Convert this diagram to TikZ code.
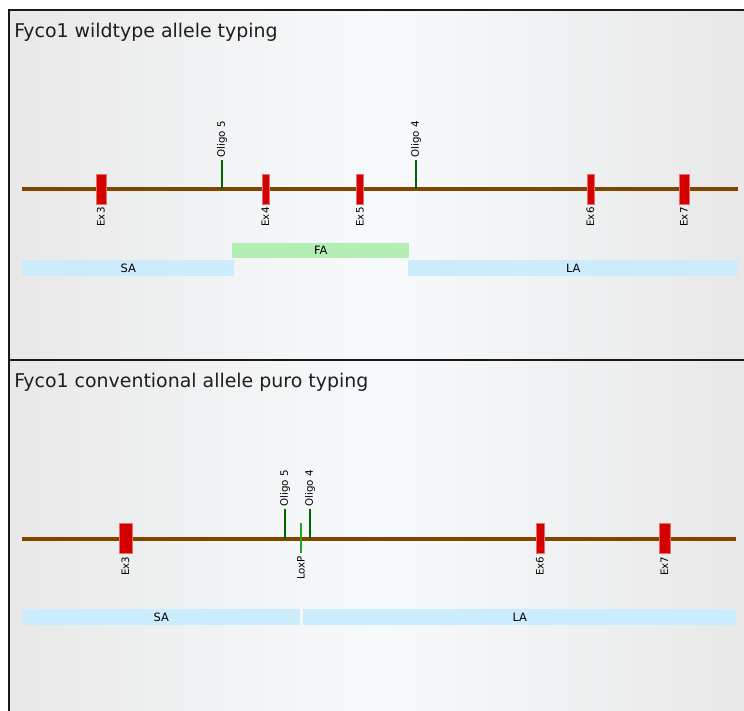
\documentclass[tikz,border=0pt]{standalone}
\usepackage{fontspec}
\setmainfont{DejaVu Sans}
\definecolor{bbcol}{RGB}{128,70,0}
\definecolor{excol}{RGB}{212,0,0}
\definecolor{exedge}{RGB}{235,110,110}
\definecolor{oligocol}{RGB}{0,100,0}
\definecolor{loxcol}{RGB}{30,170,30}
\definecolor{sacol}{RGB}{204,236,251}
\definecolor{facol}{RGB}{180,238,180}
\definecolor{bgside}{RGB}{232,232,232}
\definecolor{bgmid}{RGB}{247,250,252}
\definecolor{framecol}{RGB}{25,25,25}
\definecolor{titlecol}{RGB}{30,30,30}
\begin{document}
\begin{tikzpicture}[x=0.75pt,y=-0.75pt,
  backbone/.style={draw=bbcol,line width=3pt},
  exon/.style={fill=excol,draw=exedge,line width=0.4pt,inner sep=0pt,minimum height=22.5pt},
  oligo/.style={draw=oligocol,line width=1.6pt},
  loxline/.style={draw=loxcol,line width=1.6pt},
  lblup/.style={rotate=90,anchor=west,inner sep=0pt,font=\fontsize{7.7}{8}\selectfont,xshift=1.5pt},
  lbldown/.style={rotate=90,anchor=east,inner sep=0pt,font=\fontsize{7.7}{8}\selectfont,xshift=-2.2pt},
  bar/.style={inner sep=0pt,anchor=north west,minimum height=12pt,font=\fontsize{8.6}{9}\selectfont},
  ttl/.style={anchor=base west,inner sep=0pt,text=titlecol,font=\fontsize{14.2}{16}\selectfont},
  frame/.style={draw=framecol,line width=1.5pt}]
\useasboundingbox (0,0) rectangle (744,711);
% backgrounds
\shade[left color=bgside,right color=bgside,middle color=bgmid] (9,10) rectangle (744,359);
\shade[left color=bgside,right color=bgside,middle color=bgmid] (9,360) rectangle (744,711);
% frame
\coordinate (fbl) at (8.5,711);
\coordinate (ftl) at (8.5,9.5);
\coordinate (ftr) at (744,9.5);
\coordinate (fml) at (8.5,359.5);
\coordinate (fmr) at (744,359.5);
\draw[frame] (fbl) -- (ftl) -- (ftr);
\draw[frame] (fml) -- (fmr);

% ===== Panel 1 =====
\node[ttl] (t1) at (14,37) {Fyco1 wildtype allele typing};
\coordinate (bb1l) at (22,189);
\coordinate (bb1r) at (738,189);
\draw[backbone] (bb1l) -- (bb1r);
% oligos
\coordinate (o5a) at (222,189); \coordinate (o5b) at (222,160);
\coordinate (o4a) at (416,189); \coordinate (o4b) at (416,160);
\draw[oligo] (o5a) -- (o5b);
\draw[oligo] (o4a) -- (o4b);
\node[lblup] (o5l) at (o5b) {Oligo 5};
\node[lblup] (o4l) at (o4b) {Oligo 4};
% exons
\node[exon,minimum width=7.5pt] (e3) at (101,189) {};
\node[exon,minimum width=5.25pt] (e4) at (265.5,189) {};
\node[exon,minimum width=5pt] (e5) at (360,189) {};
\node[exon,minimum width=5.25pt] (e6) at (590.5,189) {};
\node[exon,minimum width=7.5pt] (e7) at (684,189) {};
\node[lbldown] at (e3.south) {Ex3};
\node[lbldown] at (e4.south) {Ex4};
\node[lbldown] at (e5.south) {Ex5};
\node[lbldown] at (e6.south) {Ex6};
\node[lbldown] at (e7.south) {Ex7};
% arms
\node[bar,fill=facol,minimum width=132.75pt,minimum height=11.25pt] (fa1) at (232,243) {FA};
\node[bar,fill=sacol,minimum width=159pt] (sa1) at (22,260) {SA};
\node[bar,fill=sacol,minimum width=247.5pt] (la1) at (408,260) {LA};

% ===== Panel 2 =====
\node[ttl] (t2) at (14,387) {Fyco1 conventional allele puro typing};
\coordinate (bb2l) at (22,539);
\coordinate (bb2r) at (736,539);
\draw[backbone] (bb2l) -- (bb2r);
\coordinate (p5a) at (285,539); \coordinate (p5b) at (285,509);
\coordinate (p4a) at (310,539); \coordinate (p4b) at (310,509);
\draw[oligo] (p5a) -- (p5b);
\draw[oligo] (p4a) -- (p4b);
\node[lblup] (p5l) at (p5b) {Oligo 5};
\node[lblup] (p4l) at (p4b) {Oligo 4};
\coordinate (lxa) at (301,523); \coordinate (lxb) at (301,553);
\draw[loxline] (lxa) -- (lxb);
\node[lbldown] (lxl) at (lxb) {LoxP};
\node[exon,minimum width=9.75pt] (f3) at (125.5,538) {};
\node[exon,minimum width=6pt] (f6) at (540,538) {};
\node[exon,minimum width=8.25pt] (f7) at (664.5,538) {};
\node[lbldown] at (f3.south) {Ex3};
\node[lbldown] at (f6.south) {Ex6};
\node[lbldown] at (f7.south) {Ex7};
\node[bar,fill=sacol,minimum width=208.5pt] (sa2) at (22,609) {SA};
\node[bar,fill=sacol,minimum width=324.75pt] (la2) at (303,609) {LA};
\end{tikzpicture}
\end{document}
